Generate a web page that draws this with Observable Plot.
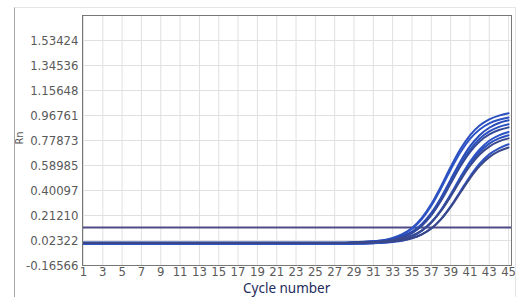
<!DOCTYPE html>
<html><head><meta charset="utf-8">
<script src="https://cdn.jsdelivr.net/npm/d3@7"></script>
<script src="https://cdn.jsdelivr.net/npm/@observablehq/plot@0.6"></script>
<style>
body{margin:0;background:#fff;}
#wrap{position:relative;width:523px;height:297px;overflow:hidden;background:#fff;}
#chart{position:absolute;left:0;top:0;}
#border{position:absolute;left:14px;top:7px;width:500px;height:295px;border-left:1px solid #a8a8a8;border-top:1px solid #e6e6e6;border-right:1px solid #e6e6e6;}
#xlabel{position:absolute;left:240px;top:282px;padding:0 3px;background:#fff;font-family:"Noto Sans",sans-serif;font-size:13.5px;color:#1e2b5c;line-height:13px;}
</style></head>
<body><div id="wrap"><div id="chart"></div><div id="border"></div><div id="xlabel">Cycle number</div></div>
<script>
const cycles = [1,2,3,4,5,6,7,8,9,10,11,12,13,14,15,16,17,18,19,20,21,22,23,24,25,26,27,28,29,30,31,32,33,34,35,36,37,38,39,40,41,42,43,44,45];
const xTicks = [1,3,5,7,9,11,13,15,17,19,21,23,25,27,29,31,33,35,37,39,41,43,45];
const yTicks = [-0.16566,0.02322,0.21210,0.40097,0.58985,0.77873,0.96761,1.15648,1.34536,1.53424];
const yTickLabels = ["-0.16566","0.02322","0.21210","0.40097","0.58985","0.77873","0.96761","1.15648","1.34536","1.53424"];
const threshold = 0.121;

const rnA = [0.005,0.005,0.005,0.005,0.005,0.005,0.005,0.005,0.005,0.005,0.005,0.005,0.005,0.005,
             0.005,0.005,0.005,0.005,0.005,0.005,0.005,0.005,0.005,0.005,0.005,0.005,0.005,0.005,
             0.009,0.012,0.017,0.026,0.043,0.071,0.118,0.192,0.298,0.432,0.578,0.712,0.818,0.892,0.939,0.967,0.984];
const rnB = [0.002,0.002,0.002,0.002,0.002,0.002,0.002,0.002,0.002,0.002,0.002,0.002,0.002,0.002,
             0.002,0.002,0.002,0.002,0.002,0.002,0.002,0.002,0.002,0.002,0.002,0.002,0.002,0.002,
             0.006,0.009,0.014,0.022,0.039,0.066,0.112,0.183,0.286,0.416,0.558,0.688,0.791,0.862,0.908,0.935,0.952];
const rnC = [0.008,0.008,0.008,0.008,0.008,0.008,0.008,0.008,0.008,0.008,0.008,0.008,0.008,0.008,
             0.008,0.008,0.008,0.008,0.008,0.008,0.008,0.008,0.008,0.008,0.008,0.008,0.008,0.008,
             0.011,0.013,0.017,0.023,0.035,0.056,0.091,0.147,0.232,0.347,0.483,0.619,0.734,0.819,0.875,0.911,0.931];
const rnD = [-0.002,-0.002,-0.002,-0.002,-0.002,-0.002,-0.002,-0.002,-0.002,-0.002,-0.002,-0.002,-0.002,-0.002,
             -0.002,-0.002,-0.002,-0.002,-0.002,-0.002,-0.002,-0.002,-0.002,-0.002,-0.002,-0.002,-0.002,-0.002,
             0.001,0.003,0.006,0.013,0.024,0.045,0.079,0.134,0.217,0.330,0.463,0.596,0.709,0.792,0.847,0.882,0.902];
const rnE = [0.003,0.003,0.003,0.003,0.003,0.003,0.003,0.003,0.003,0.003,0.003,0.003,0.003,0.003,
             0.003,0.003,0.003,0.003,0.003,0.003,0.003,0.003,0.003,0.003,0.003,0.003,0.003,0.003,
             0.006,0.008,0.011,0.017,0.028,0.048,0.081,0.134,0.215,0.324,0.453,0.582,0.691,0.772,0.825,0.858,0.878];
const rnF = [-0.004,-0.004,-0.004,-0.004,-0.004,-0.004,-0.004,-0.004,-0.004,-0.004,-0.004,-0.004,-0.004,-0.004,
             -0.004,-0.004,-0.004,-0.004,-0.004,-0.004,-0.004,-0.004,-0.004,-0.004,-0.004,-0.004,-0.004,-0.004,
             -0.002,-0.001,0.002,0.007,0.015,0.029,0.054,0.095,0.161,0.254,0.372,0.500,0.618,0.711,0.777,0.818,0.843];
const rnG = [0.001,0.001,0.001,0.001,0.001,0.001,0.001,0.001,0.001,0.001,0.001,0.001,0.001,0.001,
             0.001,0.001,0.001,0.001,0.001,0.001,0.001,0.001,0.001,0.001,0.001,0.001,0.001,0.001,
             0.003,0.004,0.007,0.011,0.019,0.033,0.057,0.097,0.160,0.250,0.364,0.488,0.602,0.692,0.755,0.795,0.819];
const rnH = [0.006,0.006,0.006,0.006,0.006,0.006,0.006,0.006,0.006,0.006,0.006,0.006,0.006,0.006,
             0.006,0.006,0.006,0.006,0.006,0.006,0.006,0.006,0.006,0.006,0.006,0.006,0.006,0.006,
             0.008,0.009,0.012,0.016,0.023,0.037,0.060,0.099,0.159,0.246,0.356,0.476,0.586,0.673,0.733,0.772,0.795];
const rnI = [-0.001,-0.001,-0.001,-0.001,-0.001,-0.001,-0.001,-0.001,-0.001,-0.001,-0.001,-0.001,-0.001,-0.001,
             -0.001,-0.001,-0.001,-0.001,-0.001,-0.001,-0.001,-0.001,-0.001,-0.001,-0.001,-0.001,-0.001,-0.001,
             0.000,0.001,0.003,0.006,0.012,0.021,0.039,0.068,0.114,0.185,0.281,0.394,0.507,0.603,0.674,0.720,0.750];
const rnJ = [0.004,0.004,0.004,0.004,0.004,0.004,0.004,0.004,0.004,0.004,0.004,0.004,0.004,0.004,
             0.004,0.004,0.004,0.004,0.004,0.004,0.004,0.004,0.004,0.004,0.004,0.004,0.004,0.004,
             0.005,0.006,0.008,0.011,0.016,0.025,0.042,0.070,0.115,0.183,0.275,0.384,0.493,0.585,0.653,0.698,0.726];

const wellNames = ["A","B","C","D","E","F","G","H","I","J"];
const wellColors = ["#2a50c0","#2d53c4","#2a4cb8","#2a50c0","#354a98","#2d53c4","#2a50c0","#3b4a8c","#2d53c4","#3a4788"];
const series = [rnA,rnB,rnC,rnD,rnE,rnF,rnG,rnH,rnI,rnJ];

const rows = series.flatMap((vals, k) => vals.map((v, i) => ({cycle: cycles[i], rn: v, well: wellNames[k]})));
const yLabelMap = new Map(yTicks.map((t, i) => [t, yTickLabels[i]]));

const plot = Plot.plot({
  width: 523, height: 297,
  marginLeft: 82, marginRight: 12, marginTop: 15, marginBottom: 32,
  style: {background: "transparent", fontFamily: "'Liberation Sans Narrow','Arial Narrow','DejaVu Sans Condensed',sans-serif"},
  x: {domain: [0.9, 45.3]},
  y: {domain: [-0.16566, 1.72314]},
  color: {domain: wellNames, range: wellColors},
  marks: [
    Plot.gridX(xTicks, {stroke: "#e0e0e0", strokeOpacity: 1}),
    Plot.gridY(yTicks, {stroke: "#e0e0e0", strokeOpacity: 1}),
    Plot.axisX(xTicks, {tickSize: 0, tickPadding: 1, fontSize: 13, fill: "#5a5a5a", label: null}),
    Plot.axisY(yTicks, {tickSize: 0, tickPadding: 4, fontSize: 13, fill: "#5a5a5a", label: null, tickFormat: d => yLabelMap.get(d)}),
    Plot.text(["Rn"], {frameAnchor: "left", dx: -63, dy: 4, rotate: -90, fontSize: 11, fill: "#555"}),
    Plot.ruleY([threshold], {stroke: "#4f4b86", strokeWidth: 2}),
    Plot.line(rows, {x: "cycle", y: "rn", z: "well", stroke: "well", strokeWidth: 2, curve: "monotone-x"}),
    Plot.frame({stroke: "#777"})
  ]
});
document.getElementById("chart").appendChild(plot);
</script>
</body></html>
